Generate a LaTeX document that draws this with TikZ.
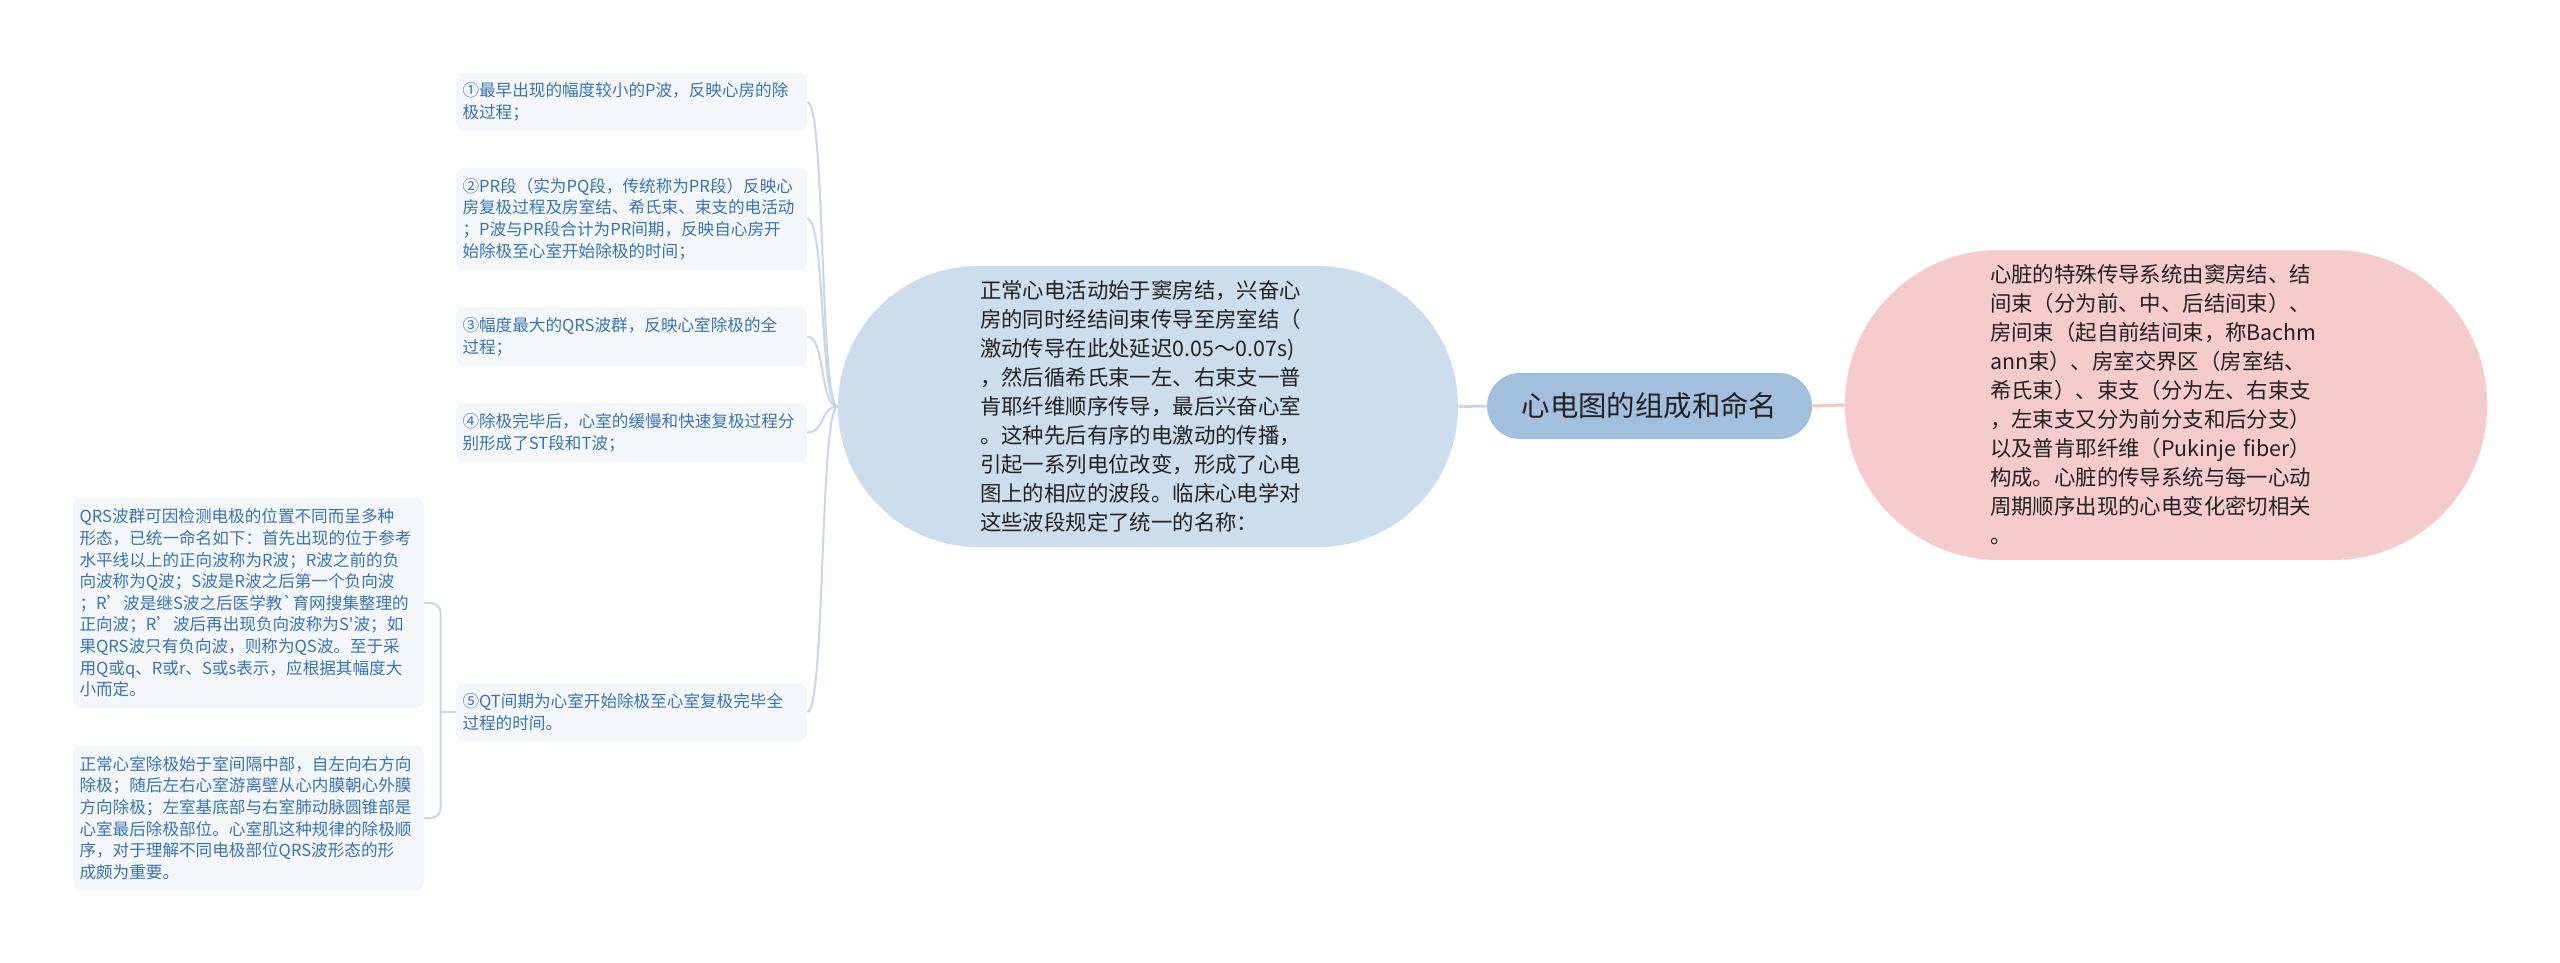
\documentclass[tikz,border=0pt]{standalone}
\usepackage{fontspec}
\newfontfamily\cjk{Noto Sans CJK SC}
\definecolor{leafbg}{HTML}{F3F7FC}
\definecolor{leaftext}{HTML}{3A72B4}
\definecolor{linkc}{HTML}{C8D7E8}
\definecolor{midbg}{HTML}{CCDDEE}
\definecolor{rootbg}{HTML}{A2BFDD}
\definecolor{pinkbg}{HTML}{F5CBCC}
\definecolor{pinkline}{HTML}{F2C6C6}
\definecolor{darktext}{HTML}{222222}
\tikzset{
  leaf/.style={fill=leafbg, rounded corners=4pt, text=leaftext,
    font=\cjk\fontsize{8.3pt}{10.8pt}\selectfont, align=left,
    text width=169pt, minimum width=175.5pt, inner sep=0pt},
  rootnode/.style={fill=rootbg, rounded corners=16.5pt, minimum width=162.5pt,
    minimum height=33pt, inner sep=0pt, text=darktext,
    font=\cjk\fontsize{14.2pt}{17pt}\selectfont},
  bignode/.style={inner sep=0pt, align=left, text=darktext,
    font=\cjk\fontsize{10.7pt}{14.5pt}\selectfont},
  link/.style={draw=linkc, line width=1pt},
  mainlink/.style={draw=linkc, line width=1.5pt},
  pinklink/.style={draw=pinkline, line width=1.5pt}
}
\begin{document}
\begin{tikzpicture}[x=0.5pt,y=-0.5pt]
\useasboundingbox (0,0) rectangle (2560,963);
\fill[white] (0,0) rectangle (2560,963);

% central and main nodes
\node[rootnode] (root) at (1649.5,406) {心电图的组成和命名};
\node[bignode, fill=midbg, rounded corners=70pt, minimum width=310pt,
  minimum height=140.5pt, text width=168pt] (mid) at (1148,406.5)
  {正常心电活动始于窦房结，兴奋心\\
   房的同时经结间束传导至房室结（\\
   激动传导在此处延迟0.05～0.07s)\\
   ，然后循希氏束一左、右束支一普\\
   肯耶纤维顺序传导，最后兴奋心室\\
   。这种先后有序的电激动的传播，\\
   引起一系列电位改变，形成了心电\\
   图上的相应的波段。临床心电学对\\
   这些波段规定了统一的名称：};
\node[bignode, fill=pinkbg, rounded corners=77pt, minimum width=321pt,
  minimum height=155pt, text width=176pt] (pink) at (2166,405)
  {心脏的特殊传导系统由窦房结、结\\
   间束（分为前、中、后结间束）、\\
   房间束（起自前结间束，称Bachm\\
   ann束）、房室交界区（房室结、\\
   希氏束）、束支（分为左、右束支\\
   ，左束支又分为前分支和后分支）\\
   以及普肯耶纤维（Pukinje~fiber）\\
   构成。心脏的传导系统与每一心动\\
   周期顺序出现的心电变化密切相关\\
   。};

% leaves
\node[leaf, minimum height=29pt] (l1) at (631.5,102)
  {①最早出现的幅度较小的P波，反映心房的除\\极过程；};
\node[leaf, minimum height=51pt] (l2) at (631.5,219)
  {②PR段（实为PQ段，传统称为PR段）反映心\\
   房复极过程及房室结、希氏束、束支的电活动\\
   ；P波与PR段合计为PR间期，反映自心房开\\
   始除极至心室开始除极的时间；};
\node[leaf, minimum height=29.5pt] (l3) at (631.5,336.5)
  {③幅度最大的QRS波群，反映心室除极的全\\过程；};
\node[leaf, minimum height=29.5pt] (l4) at (631.5,432.5)
  {④除极完毕后，心室的缓慢和快速复极过程分\\别形成了ST段和T波；};
\node[leaf, minimum height=29pt] (l5) at (631.5,712)
  {⑤QT间期为心室开始除极至心室复极完毕全\\过程的时间。};
\node[leaf, minimum height=105pt] (qa) at (248.5,603)
  {QRS波群可因检测电极的位置不同而呈多种\\
   形态，已统一命名如下：首先出现的位于参考\\
   水平线以上的正向波称为R波；R波之前的负\\
   向波称为Q波；S波是R波之后第一个负向波\\
   ；R’波是继S波之后医学教`育网搜集整理的\\
   正向波；R’波后再出现负向波称为S'波；如\\
   果QRS波只有负向波，则称为QS波。至于采\\
   用Q或q、R或r、S或s表示，应根据其幅度大\\
   小而定。};
\node[leaf, minimum height=72pt] (qb) at (248.5,818)
  {正常心室除极始于室间隔中部，自左向右方向\\
   除极；随后左右心室游离壁从心内膜朝心外膜\\
   方向除极；左室基底部与右室肺动脉圆锥部是\\
   心室最后除极部位。心室肌这种规律的除极顺\\
   序，对于理解不同电极部位QRS波形态的形\\
   成颇为重要。};

% connectors
\draw[mainlink] (root.west) -- (mid.east);
\draw[pinklink] (root.east) -- (pink.west);
\foreach \n in {l1,l2,l3,l4,l5}
  \draw[link] (mid.west) .. controls +(-18,0) and +(18,0) .. (\n.east);
\draw[link] (l5.west) -- ++(-15,0) coordinate (j);
\draw[link, rounded corners=5pt] (j) |- (qa.east);
\draw[link, rounded corners=5pt] (j) |- (qb.east);
\end{tikzpicture}
\end{document}
